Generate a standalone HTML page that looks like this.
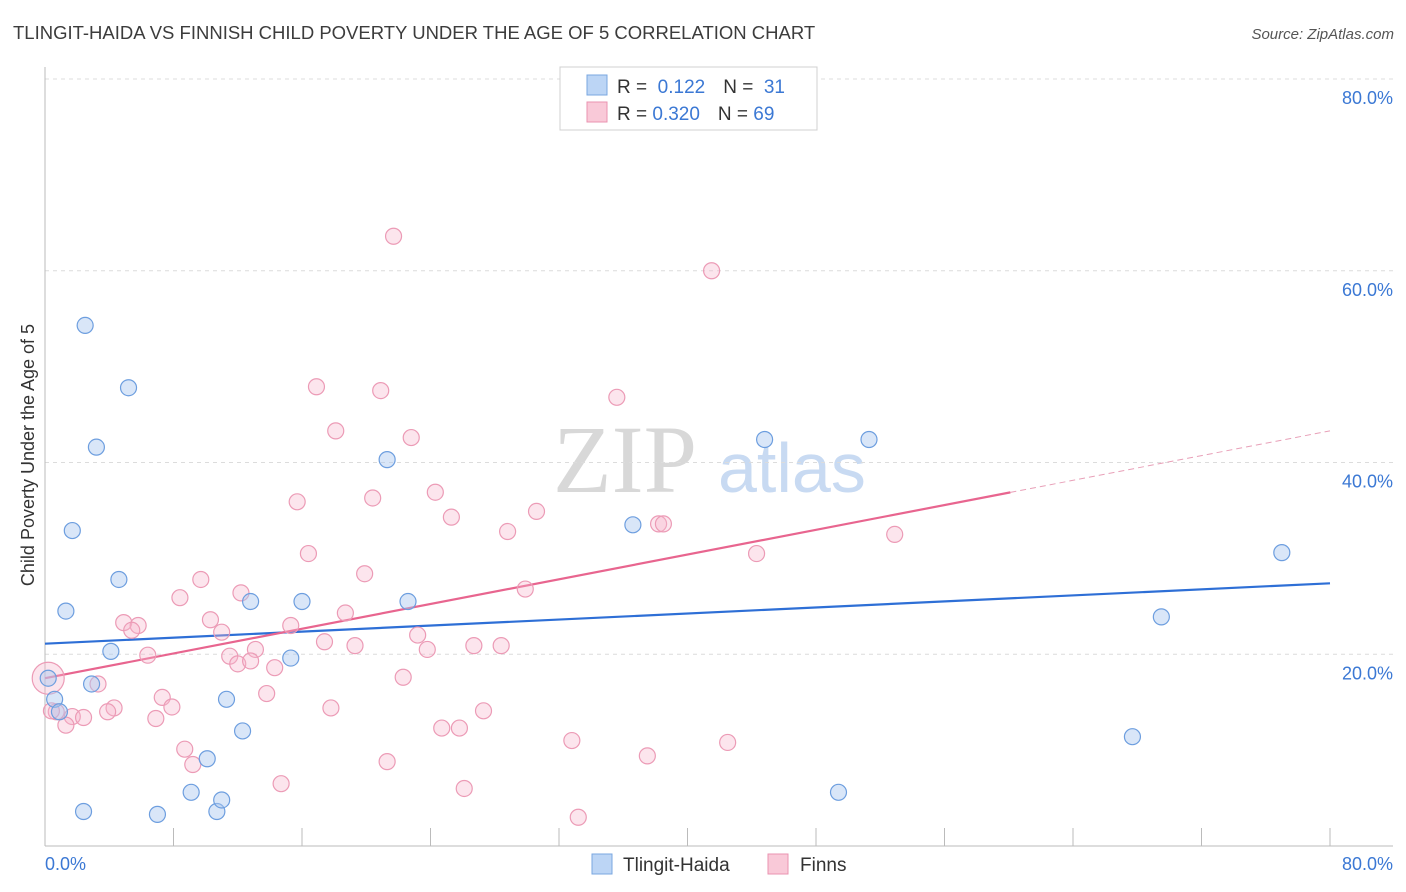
<!DOCTYPE html>
<html><head><meta charset="utf-8"><style>
body{margin:0;background:#fff;font-family:"Liberation Sans",sans-serif;}
svg{display:block}
</style></head><body>
<svg id="chart" width="1406" height="892" xmlns="http://www.w3.org/2000/svg">
<text x="13" y="39" font-size="18.5" fill="#3c3c3c">TLINGIT-HAIDA VS FINNISH CHILD POVERTY UNDER THE AGE OF 5 CORRELATION CHART</text>
<text x="1394" y="39" font-size="15" fill="#555" font-style="italic" text-anchor="end">Source: ZipAtlas.com</text>
<g>
<text x="553" y="492" font-family="Liberation Serif,serif" font-size="96" fill="#d8d8d8">ZIP</text>
<text x="718" y="492" font-size="70" fill="#c8daf2">atlas</text>
</g>
<g id="grid"></g>
<g id="axes"></g>
<g id="trends"></g>
<g id="points"></g>
<text transform="translate(34,455) rotate(-90)" font-size="18" fill="#333" text-anchor="middle">Child Poverty Under the Age of 5</text>
<g>
<rect x="560" y="67" width="257" height="63" fill="#fff" stroke="#d0d0d0"/>
<rect x="587" y="75" width="20" height="20" fill="#bcd5f5" stroke="#7aa7e0"/>
<text x="617" y="93" font-size="19" fill="#333">R = <tspan fill="#3b78d4">&#160;0.122</tspan><tspan dx="18">N = </tspan><tspan fill="#3b78d4">&#160;31</tspan></text>
<rect x="587" y="102" width="20" height="20" fill="#f9c9d8" stroke="#ea93b0"/>
<text x="617" y="120" font-size="19" fill="#333">R = <tspan fill="#3b78d4">0.320</tspan><tspan dx="18">N = </tspan><tspan fill="#3b78d4">69</tspan></text>
</g>
<g>
<rect x="592" y="854" width="20" height="20" fill="#bcd5f5" stroke="#7aa7e0"/>
<text x="623" y="871" font-size="19" fill="#333">Tlingit-Haida</text>
<rect x="768" y="854" width="20" height="20" fill="#f9c9d8" stroke="#ea93b0"/>
<text x="800" y="871" font-size="19" fill="#333">Finns</text>
</g>
</svg>
<script>
const yTicks=[20,40,60,80];
const xTickLabels=["0.0%","80.0%"];
const blueX=[2.5,5.2,3.2,1.7,4.6,1.3,4.1,0.2,0.6,0.9,2.9,2.4,7.0,9.1,10.7,11.0,10.1,11.3,12.3,12.8,16.0,15.3,21.3,22.6,36.6,44.8,51.3,77.0,69.5,67.7,49.4];
const blueY=[54.3,47.8,41.6,32.9,27.8,24.5,20.3,17.5,15.3,14.0,16.9,3.6,3.3,5.6,3.6,4.8,9.1,15.3,12.0,25.5,25.5,19.6,40.3,25.5,33.5,42.4,42.4,30.6,23.9,11.4,5.6];
const pinkX=[21.7,41.5,16.9,20.9,35.6,18.1,22.8,24.3,15.7,20.4,25.3,30.6,28.8,38.2,38.5,16.4,44.3,52.9,19.9,9.7,8.4,12.2,29.9,18.7,4.9,5.8,5.4,10.3,11.0,15.3,17.4,19.3,23.2,23.8,26.7,28.4,6.4,11.5,13.1,12.0,12.8,14.3,22.3,3.3,7.3,7.9,13.8,4.3,3.9,0.7,1.7,2.4,1.3,6.9,17.8,27.3,24.7,25.8,8.7,9.2,32.8,42.5,37.5,21.3,14.7,26.1,33.2,0.4,0.2];
const pinkY=[63.6,60.0,47.9,47.5,46.8,43.3,42.6,36.9,35.9,36.3,34.3,34.9,32.8,33.6,33.6,30.5,30.5,32.5,28.4,27.8,25.9,26.4,26.8,24.3,23.3,23.0,22.5,23.6,22.3,23.0,21.3,20.9,22.0,20.5,20.9,20.9,19.9,19.8,20.5,19.0,19.3,18.6,17.6,16.9,15.5,14.5,15.9,14.4,14.0,14.0,13.5,13.4,12.6,13.3,14.4,14.1,12.3,12.3,10.1,8.5,11.0,10.8,9.4,8.8,6.5,6.0,3.0,14.1,17.5];
const blueTrend=[21.1,27.4];
const pinkTrend=[17.5,43.3];
const pinkSolidEnd=60.1;
const NS="http://www.w3.org/2000/svg";
const X=v=>45+v*1285/80, Y=v=>846-v*767/80;
function mk(t,a,p){const e=document.createElementNS(NS,t);for(const k in a)e.setAttribute(k,a[k]);p.appendChild(e);return e;}
const grid=document.getElementById('grid'),axes=document.getElementById('axes');
yTicks.forEach(t=>{
 const l=mk('line',{x1:45,x2:1393,y1:Y(t),y2:Y(t),stroke:'#dcdcdc','stroke-dasharray':'4,4'},grid);
 
 
 const tx=mk('text',{x:1393,y:Y(t)+25,'font-size':18,fill:'#3b78d4','text-anchor':'end'},axes);
 tx.textContent=t.toFixed(1)+'%';
 
 
});
let a=mk('line',{x1:45,x2:45,y1:67,y2:846,stroke:'#bbb'},axes);


a=mk('line',{x1:45,x2:1393,y1:846,y2:846,stroke:'#bbb'},axes);


for(let i=0;i<=10;i++){const tk=mk('line',{x1:X(i*8),x2:X(i*8),y1:828,y2:846,stroke:'#bbb'},axes);
 
 }
let xl=mk('text',{x:45,y:870,'font-size':18,fill:'#3b78d4'},axes);xl.textContent=xTickLabels[0];


xl=mk('text',{x:1393,y:870,'font-size':18,fill:'#3b78d4','text-anchor':'end'},axes);xl.textContent=xTickLabels[1];


const pts=document.getElementById('points');
for(let i=0;i<pinkX.length;i++){const c=mk('circle',{cx:X(pinkX[i]),cy:Y(pinkY[i]),r:(i===pinkX.length-1?16:8),fill:'rgba(246,180,202,0.35)',stroke:'#ec9bb6','stroke-width':1.2},pts);
 
 }
for(let i=0;i<blueX.length;i++){const c=mk('circle',{cx:X(blueX[i]),cy:Y(blueY[i]),r:8,fill:'rgba(170,200,240,0.45)',stroke:'#6d9edf','stroke-width':1.2},pts);
 
 }
const tr=document.getElementById('trends');
const pv=x=>pinkTrend[0]+(pinkTrend[1]-pinkTrend[0])*x/80;
let t=mk('line',{x1:X(0),y1:Y(blueTrend[0]),x2:X(80),y2:Y(blueTrend[1]),stroke:'#2e6fd6','stroke-width':2.2},tr);


t=mk('line',{x1:X(0),y1:Y(pv(0)),x2:X(pinkSolidEnd),y2:Y(pv(pinkSolidEnd)),stroke:'#e8658f','stroke-width':2.2},tr);


t=mk('line',{x1:X(pinkSolidEnd),y1:Y(pv(pinkSolidEnd)),x2:X(80),y2:Y(pv(80)),stroke:'#e8a0b8','stroke-width':1,'stroke-dasharray':'6,4'},tr);


</script>
</body></html>
